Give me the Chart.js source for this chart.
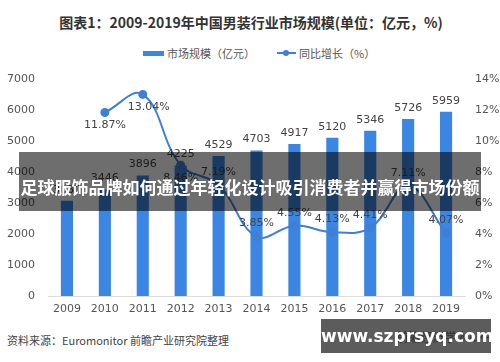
<!DOCTYPE html>
<html>
<head>
<meta charset="utf-8">
<script src="https://cdn.jsdelivr.net/npm/chart.js@4.4.0/dist/chart.umd.min.js"></script>
<style>
  body { margin:0; background:#fff; font-family:"Noto Sans CJK SC","Noto Sans",sans-serif; }
  #wrap { position:relative; width:500px; height:362px; overflow:hidden; }
  #title { position:absolute; top:12px; left:0; width:502px; text-align:center; font-size:14px; font-weight:bold; color:#333; }
  #legend { position:absolute; top:43px; left:143px; font-size:11px; color:#555; white-space:nowrap; }
  #legend span { display:inline-block; vertical-align:middle; }
  .sw-bar { width:21px; height:5px; background:#3b86e3; margin-right:3px; }
  .sw-line { width:19px; height:2px; background:#3f7fd6; position:relative; margin-left:22px; margin-right:3px; }
  .sw-line:after { content:""; position:absolute; left:6px; top:-2px; width:6px; height:6px; border-radius:50%; background:#3f7fd6; }
  #c { position:absolute; left:0; top:60px; }
  #source { position:absolute; left:7px; top:332px; font-size:11px; color:#444; }
  #banner { position:absolute; left:19px; top:152px; width:462px; height:59px; background:rgba(0,0,0,0.57); color:#fff; font-weight:bold; font-size:17px; line-height:59px; text-align:center; padding-top:5px; box-sizing:border-box; }
  #box { position:absolute; left:321px; top:319px; width:170px; height:34px; background:#5c5c5c; }
  #app { position:absolute; right:9px; top:328px; font-size:12px; color:rgba(30,30,30,0.75); }
  #site { position:absolute; left:321px; top:319px; width:165px; height:34px; color:#fff; font-family:"DejaVu Sans",sans-serif; font-weight:bold; font-size:17px; line-height:34px; text-align:center; }
</style>
</head>
<body>
<div id="wrap">
  <div id="title">图表1：2009-2019年中国男装行业市场规模(单位：亿元，%)</div>
  <div id="legend"><span class="sw-bar"></span><span>市场规模（亿元）</span><span class="sw-line"></span><span>同比增长（%）</span></div>
  <canvas id="c" width="500" height="260"></canvas>
  <div id="source">资料来源：Euromonitor  前瞻产业研究院整理</div>
  <div id="banner">足球服饰品牌如何通过年轻化设计吸引消费者并赢得市场份额</div>
  <div id="box"></div>
  <div id="app">前瞻经济学人APP</div>
  <div id="site">www.szprsyq.com</div>
</div>
<script>
// chart data
const years = ['2009','2010','2011','2012','2013','2014','2015','2016','2017','2018','2019'];
const marketSize = [3080, 3446, 3896, 4225, 4529, 4703, 4917, 5120, 5346, 5726, 5959];
const growth = [null, 11.87, 13.04, 8.46, 7.19, 3.85, 4.55, 4.13, 4.41, 7.11, 4.07];
const leftTicks = [0, 1000, 2000, 3000, 4000, 5000, 6000, 7000];
const rightTicks = [0, 2, 4, 6, 8, 10, 12, 14];

// where the % label sits relative to the point
const labelBelow = [false, true, true, true, false, false, false, false, false, false, false];

const labelPlugin = {
  id: 'valueLabels',
  afterDatasetsDraw(chart) {
    const ctx = chart.ctx;
    ctx.save();
    ctx.font = '11px "DejaVu Sans", sans-serif';
    ctx.fillStyle = '#444';
    ctx.textAlign = 'center';
    ctx.textBaseline = 'middle';
    chart.getDatasetMeta(1).data.forEach((bar, i) => {
      ctx.fillText(marketSize[i], bar.x, bar.y - 11);
    });
    chart.getDatasetMeta(0).data.forEach((pt, i) => {
      if (growth[i] == null) return;
      const dy = labelBelow[i] ? 13 : -13;
      ctx.fillText(growth[i].toFixed(2) + '%', pt.x + (i == 2 ? 6 : 0), pt.y + dy);
    });
    ctx.restore();
  }
};

const tickFont = { size: 11, family: '"DejaVu Sans", sans-serif' };

new Chart(document.getElementById('c'), {
  data: {
    labels: years,
    datasets: [
      {
        type: 'line',
        label: '同比增长（%）',
        data: growth,
        yAxisID: 'y2',
        borderColor: '#3f7fd6',
        backgroundColor: '#3f7fd6',
        borderWidth: 2,
        pointRadius: 3.5,
        tension: 0.4,
        order: 0
      },
      {
        type: 'bar',
        label: '市场规模（亿元）',
        data: marketSize,
        yAxisID: 'y',
        backgroundColor: '#3b86e3',
        categoryPercentage: 1,
        barPercentage: 0.32,
        order: 1
      }
    ]
  },
  options: {
    responsive: false,
    animation: false,
    layout: { padding: { top: 15, left: 0, right: 0, bottom: 0 } },
    plugins: { legend: { display: false }, tooltip: { enabled: false } },
    scales: {
      x: {
        grid: { display: false, drawTicks: false },
        border: { color: '#ddd' },
        ticks: { color: '#555', font: tickFont, padding: 7 },
        afterFit(s) { s.height = 24; }
      },
      y: {
        position: 'left',
        min: 0, max: 7000,
        afterBuildTicks(s) { s.ticks = leftTicks.map(v => ({ value: v })); },
        grid: { display: false, drawTicks: false },
        border: { display: false },
        ticks: { color: '#555', font: tickFont, padding: 13, callback: v => String(v) },
        afterFit(s) { s.width = 48; }
      },
      y2: {
        position: 'right',
        min: 0, max: 14,
        afterBuildTicks(s) { s.ticks = rightTicks.map(v => ({ value: v })); },
        grid: { display: false, drawTicks: false },
        border: { display: false },
        ticks: { color: '#555', font: tickFont, padding: 10, callback: v => v + '%' },
        afterFit(s) { s.width = 35; }
      }
    }
  },
  plugins: [labelPlugin]
});
</script>
</body>
</html>
